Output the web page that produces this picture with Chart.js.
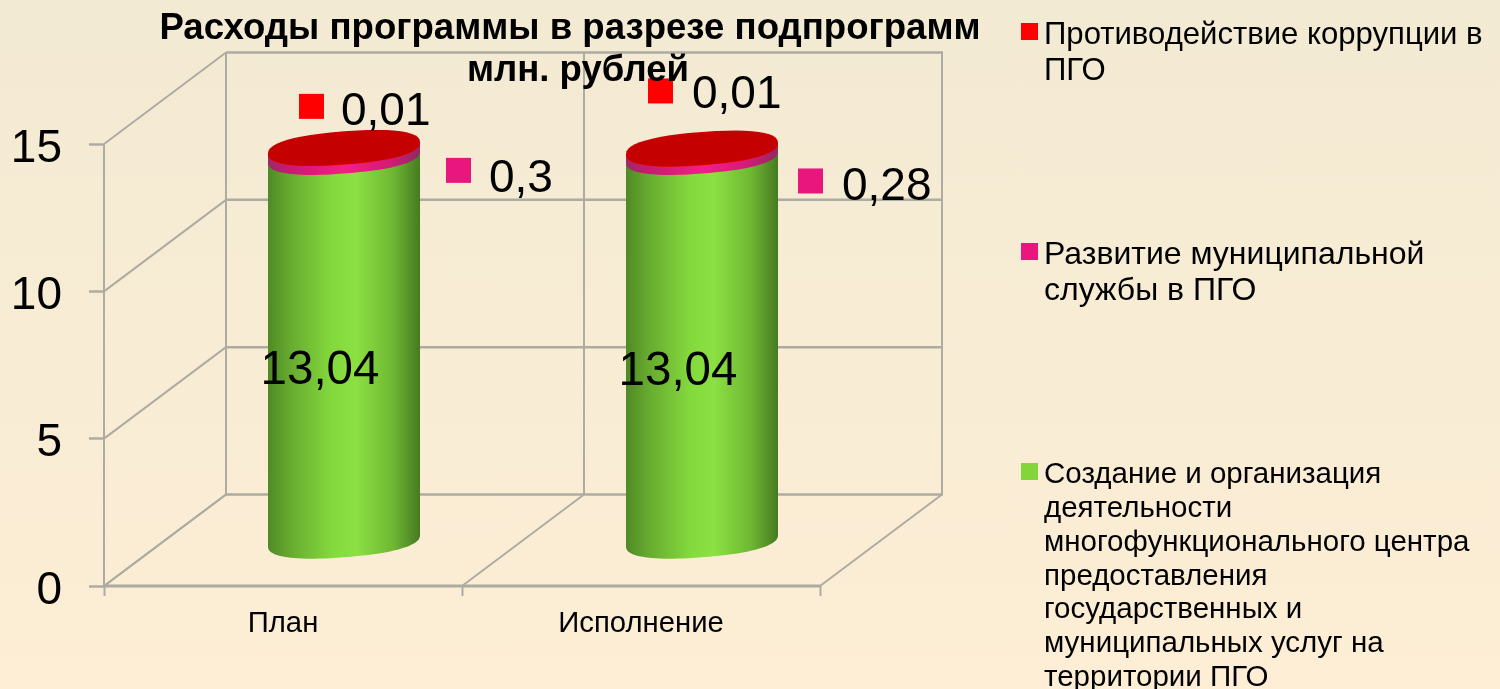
<!DOCTYPE html>
<html lang="ru">
<head>
<meta charset="utf-8">
<title>Расходы программы в разрезе подпрограмм</title>
<script src="https://cdn.jsdelivr.net/npm/chart.js@4"></script>
<style>
  html, body { margin: 0; padding: 0; }
  body { width: 1500px; height: 689px; overflow: hidden; background: linear-gradient(#f3ead3, #fdeed5); }
  #wrap { position: relative; width: 1500px; height: 689px; }
</style>
</head>
<body>
<div id="wrap"><canvas id="chart" width="1500" height="689"></canvas></div>
<script>
// values
const categories = ['План', 'Исполнение'];
const yTicks = [0, 5, 10, 15];
const greenValues = [13.04, 13.04];
const pinkValues = [0.3, 0.28];
const redValues = [0.01, 0.01];
const greenLabels = ['13,04', '13,04'];
const pinkLabels = ['0,3', '0,28'];
const redLabels = ['0,01', '0,01'];
const titleLines = ['Расходы программы в разрезе подпрограмм', 'млн. рублей'];
const greenName = ['Создание и организация', 'деятельности', 'многофункционального центра', 'предоставления', 'государственных и', 'муниципальных услуг на', 'территории ПГО'];
const pinkName = ['Развитие муниципальной', 'службы в ПГО'];
const redName = ['Противодействие коррупции в', 'ПГО'];

const FONT = '"Liberation Sans", Arial, sans-serif';
const DEPTH_X = 122;
const DEPTH_Y = 91.5;
const GRID = '#adaba2';
const RED = '#ff0000';
const PINK = '#e9177d';
const GREEN = '#82d63c';

// label offsets from the centre of each cylinder's top cap, per category
const redLabelPos = [{ key: [-45, -53], text: [-3, -35] }, { key: [-54, -69], text: [-10, -52] }];
const pinkLabelPos = [{ key: [102, 11], text: [145, 32] }, { key: [96, 21], text: [140, 40] }];
const greenLabelPos = [{ text: [-24, 224] }, { text: [-24, 224] }];

function sideGradient(ctx, cx, w, stops) {
  const g = ctx.createLinearGradient(cx - w / 2, 0, cx + w / 2, 0);
  stops.forEach(([at, c]) => g.addColorStop(at, c));
  return g;
}

const GREEN_SIDE = [[0, '#4f8a25'], [0.14, '#66a92f'], [0.42, '#84d93d'], [0.58, '#8be042'], [0.82, '#6fb834'], [1, '#467a20']];
const PINK_SIDE = [[0, '#9c2a68'], [0.15, '#c91a72'], [0.5, '#f51e85'], [0.8, '#d41a78'], [1, '#8f2a62']];

// adds a sheared, slightly blunt ellipse arc to the current path
function capArc(ctx, cx, y, w, from, to) {
  const rx = w / 2;
  const ry = 16.5;
  const shear = 0.075;
  const pow = (v) => Math.sign(v) * Math.pow(Math.abs(v), 0.85);
  for (let k = 0; k <= 48; k++) {
    const t = from + (to - from) * k / 48;
    const px = rx * pow(Math.cos(t));
    ctx.lineTo(cx + px, y + ry * pow(Math.sin(t)) - shear * px);
  }
}

// draws one stacked piece of a cylinder between two y pixels
function drawSegment(ctx, cx, base, top, w, fill) {
  const edge = 0.075 * w / 2;
  ctx.beginPath();
  capArc(ctx, cx, base, w, 0, Math.PI);
  ctx.lineTo(cx - w / 2, top + edge);
  ctx.lineTo(cx + w / 2, top - edge);
  ctx.closePath();
  ctx.fillStyle = fill;
  ctx.fill();
}

function drawCap(ctx, cx, y, w) {
  ctx.beginPath();
  capArc(ctx, cx, y, w, 0, Math.PI * 2);
  ctx.closePath();
  ctx.fillStyle = '#c40000';
  ctx.fill();
}

function drawLine(ctx, x1, y1, x2, y2, width) {
  ctx.lineWidth = width;
  ctx.beginPath();
  ctx.moveTo(x1, y1);
  ctx.lineTo(x2, y2);
  ctx.stroke();
}

// the 3D box: back wall, left wall and floor, taken from the scales
const wallsPlugin = {
  id: 'walls',
  beforeDatasetsDraw(chart) {
    const { ctx, scales: { x, y } } = chart;
    const top = y.getPixelForValue(15);
    const bottom = y.getPixelForValue(0);
    ctx.save();
    ctx.strokeStyle = GRID;
    for (const v of yTicks) {
      const py = y.getPixelForValue(v);
      drawLine(ctx, x.left, py, x.left + DEPTH_X, py - DEPTH_Y, 2);
      drawLine(ctx, x.left + DEPTH_X, py - DEPTH_Y, x.right + DEPTH_X + 1, py - DEPTH_Y, 2.5);
    }
    const mid = (x.left + x.right) / 2;
    for (const px of [x.left, mid, x.right]) {
      drawLine(ctx, px + DEPTH_X, top - DEPTH_Y, px + DEPTH_X, bottom - DEPTH_Y, 2);
      drawLine(ctx, px, bottom, px + DEPTH_X, bottom - DEPTH_Y, 2);
    }
    drawLine(ctx, x.left, bottom, x.right, bottom, 3);
    drawLine(ctx, x.left, top, x.left, bottom, 2);
    ctx.restore();
  },
};

const cylindersPlugin = {
  id: 'cylinders',
  afterDatasetsDraw(chart) {
    const { ctx } = chart;
    const greens = chart.getDatasetMeta(0).data;
    const pinks = chart.getDatasetMeta(1).data;
    const reds = chart.getDatasetMeta(2).data;
    ctx.save();
    ctx.translate(DEPTH_X / 2, -DEPTH_Y / 2 + 1);
    greens.forEach((bar, i) => {
      const cx = bar.x;
      const w = bar.width;
      drawSegment(ctx, cx, bar.base, bar.y, w, sideGradient(ctx, cx, w, GREEN_SIDE));
      drawSegment(ctx, cx, pinks[i].base, pinks[i].y, w, sideGradient(ctx, cx, w, PINK_SIDE));
      drawSegment(ctx, cx, reds[i].base, reds[i].y, w, RED);
      drawCap(ctx, cx, reds[i].y, w);
    });
    ctx.restore();
  },
  afterDraw(chart) {
    const { ctx } = chart;
    const reds = chart.getDatasetMeta(2).data;
    ctx.save();
    ctx.fillStyle = '#000';
    ctx.textBaseline = 'middle';
    ctx.textAlign = 'left';
    reds.forEach((bar, i) => {
      const cx = bar.x + DEPTH_X / 2;
      const cy = bar.y - DEPTH_Y / 2;
      ctx.fillStyle = RED;
      ctx.fillRect(cx + redLabelPos[i].key[0], cy + redLabelPos[i].key[1], 25, 25);
      ctx.fillStyle = PINK;
      ctx.fillRect(cx + pinkLabelPos[i].key[0], cy + pinkLabelPos[i].key[1], 25, 25);
      ctx.fillStyle = '#000';
      ctx.textAlign = 'left';
      ctx.font = '46px ' + FONT;
      ctx.fillText(redLabels[i], cx + redLabelPos[i].text[0], cy + redLabelPos[i].text[1]);
      ctx.fillText(pinkLabels[i], cx + pinkLabelPos[i].text[0], cy + pinkLabelPos[i].text[1]);
      ctx.textAlign = 'center';
      ctx.font = '47.5px ' + FONT;
      ctx.fillText(greenLabels[i], cx + greenLabelPos[i].text[0], cy + greenLabelPos[i].text[1]);
    });

    ctx.textAlign = 'center';
    ctx.font = 'bold 36.6px ' + FONT;
    ctx.fillText(titleLines[0], 570, 29);
    ctx.fillText(titleLines[1], 578, 71);

    // legend, wrapped by hand as in the reference
    const legend = [
      { color: RED, lines: redName, y: 35, size: 31.1, step: 36.5 },
      { color: PINK, lines: pinkName, y: 255, size: 32, step: 36 },
      { color: GREEN, lines: greenName, y: 475, size: 29.5, step: 33.8 },
    ];
    ctx.textAlign = 'left';
    for (const item of legend) {
      ctx.fillStyle = item.color;
      ctx.fillRect(1021, item.y - 12, 17, 17);
      ctx.fillStyle = '#000';
      ctx.font = item.size + 'px ' + FONT;
      item.lines.forEach((line, j) => ctx.fillText(line, 1044, item.y + j * item.step));
    }
    ctx.restore();
  },
};

new Chart(document.getElementById('chart'), {
  type: 'bar',
  data: {
    labels: categories,
    datasets: [
      { label: greenName.join(' '), data: greenValues, stack: 'a' },
      { label: pinkName.join(' '), data: pinkValues, stack: 'a' },
      { label: redName.join(' '), data: redValues, stack: 'a' },
    ].map((d) => ({ ...d, backgroundColor: 'rgba(0,0,0,0)', borderWidth: 0, categoryPercentage: 1, barPercentage: 0.4246 })),
  },
  options: {
    responsive: false,
    animation: false,
    layout: { padding: { top: 144, right: 680, left: 0, bottom: 0 } },
    plugins: { legend: { display: false }, title: { display: false }, tooltip: { enabled: false } },
    scales: {
      x: {
        stacked: true,
        afterFit(scale) { scale.height = 103; },
        grid: { offset: true, drawOnChartArea: false, tickLength: 10, tickColor: GRID, tickWidth: 2 },
        border: { display: false },
        ticks: { color: '#000', font: { family: FONT, size: 29.3 }, padding: 10, maxRotation: 0 },
      },
      y: {
        stacked: true,
        min: 0,
        max: 15,
        afterFit(scale) { scale.width = 104; },
        afterBuildTicks(scale) { scale.ticks = yTicks.map((value) => ({ value })); },
        grid: { drawOnChartArea: false, tickLength: 15, tickColor: GRID, tickWidth: 2.5 },
        border: { display: false },
        ticks: { color: '#000', font: { family: FONT, size: 46 }, padding: 27, labelOffset: 5 },
      },
    },
  },
  plugins: [wallsPlugin, cylindersPlugin],
});
</script>
</body>
</html>
